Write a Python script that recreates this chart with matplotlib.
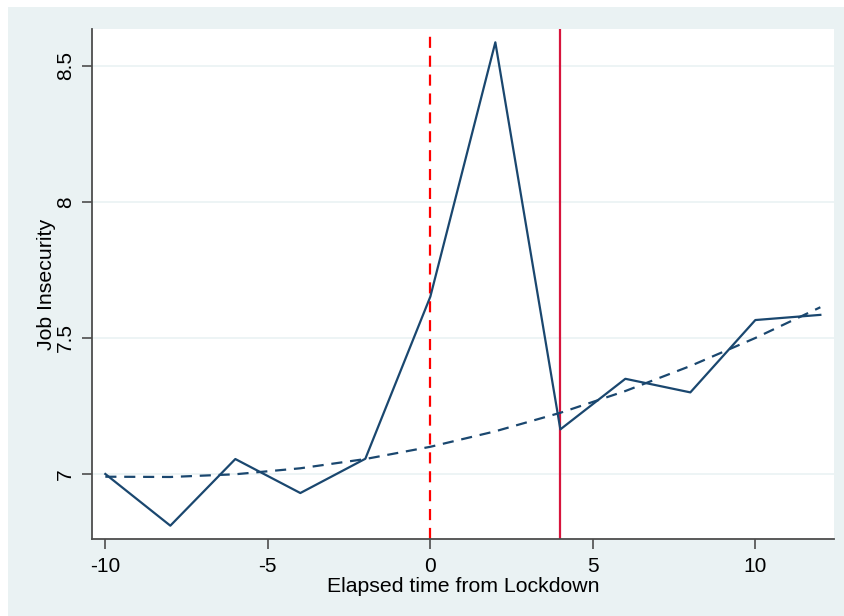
import matplotlib
matplotlib.use("Agg")
import matplotlib.pyplot as plt
from matplotlib.patches import Rectangle

plt.rcParams['font.family'] = ['Liberation Sans', 'DejaVu Sans']

elapsed = [-10, -8, -6, -4, -2, 0, 2, 4, 6, 8, 10, 12]
job_insecurity = [7.00, 6.81, 7.055, 6.93, 7.056, 7.652, 8.587, 7.164, 7.35, 7.30, 7.566, 7.585]
fitted = [6.99, 6.989, 6.999, 7.021, 7.055, 7.10, 7.157, 7.225, 7.305, 7.397, 7.50, 7.613]
lockdown_x = 0
reopen_x = 4
yticks = [7, 7.5, 8, 8.5]
xticks = [-10, -5, 0, 5, 10]

W, H = 845, 616
fig = plt.figure(figsize=(W / 100, H / 100), dpi=100, facecolor='white')
fig.patches.append(Rectangle((8 / W, 0), 1 - 8 / W, 1 - 7 / H, transform=fig.transFigure,
                             facecolor='#eaf2f3', edgecolor='none', zorder=-10))

ax = fig.add_axes([92 / W, 1 - 539 / H, (834 - 92) / W, (539 - 29) / H])
ax.set_facecolor('white')

navy = '#1a476f'
ax.plot(elapsed, job_insecurity, color=navy, lw=1.6, zorder=3)
ax.plot(elapsed, fitted, color=navy, lw=1.6, ls=(0, (5, 3.5)), zorder=3)
ax.axvline(lockdown_x, color='#ff0000', lw=1.6, ls=(0, (5, 3.5)), zorder=2)
ax.axvline(reopen_x, color='#d7143c', lw=1.6, zorder=2)

ax.set_xlim(-10.41, 12.42)
ax.set_ylim(6.761, 8.636)
ax.set_yticks(yticks)
ax.set_yticklabels(['7', '7.5', '8', '8.5'], rotation=90, va='center')
ax.set_xticks(xticks)
ax.set_xticklabels([str(v) for v in xticks])
ax.grid(axis='y', color='#eaf2f3', lw=1.2, zorder=0)
ax.grid(axis='x', visible=False)

for s in ['top', 'right']:
    ax.spines[s].set_visible(False)
for s in ['left', 'bottom']:
    ax.spines[s].set_color('#4d4d4d')
    ax.spines[s].set_linewidth(1.3)
ax.tick_params(axis='both', colors='#4d4d4d', labelcolor='black', labelsize=15,
               length=7, width=1.2)
ax.tick_params(axis='x', pad=6)
ax.tick_params(axis='y', pad=5)

ax.set_xlabel('Elapsed time from Lockdown', fontsize=15.3, labelpad=1)
ax.set_ylabel('Job Insecurity', fontsize=15.3, labelpad=0)

fig.savefig('out.png', dpi=100, facecolor='white')
